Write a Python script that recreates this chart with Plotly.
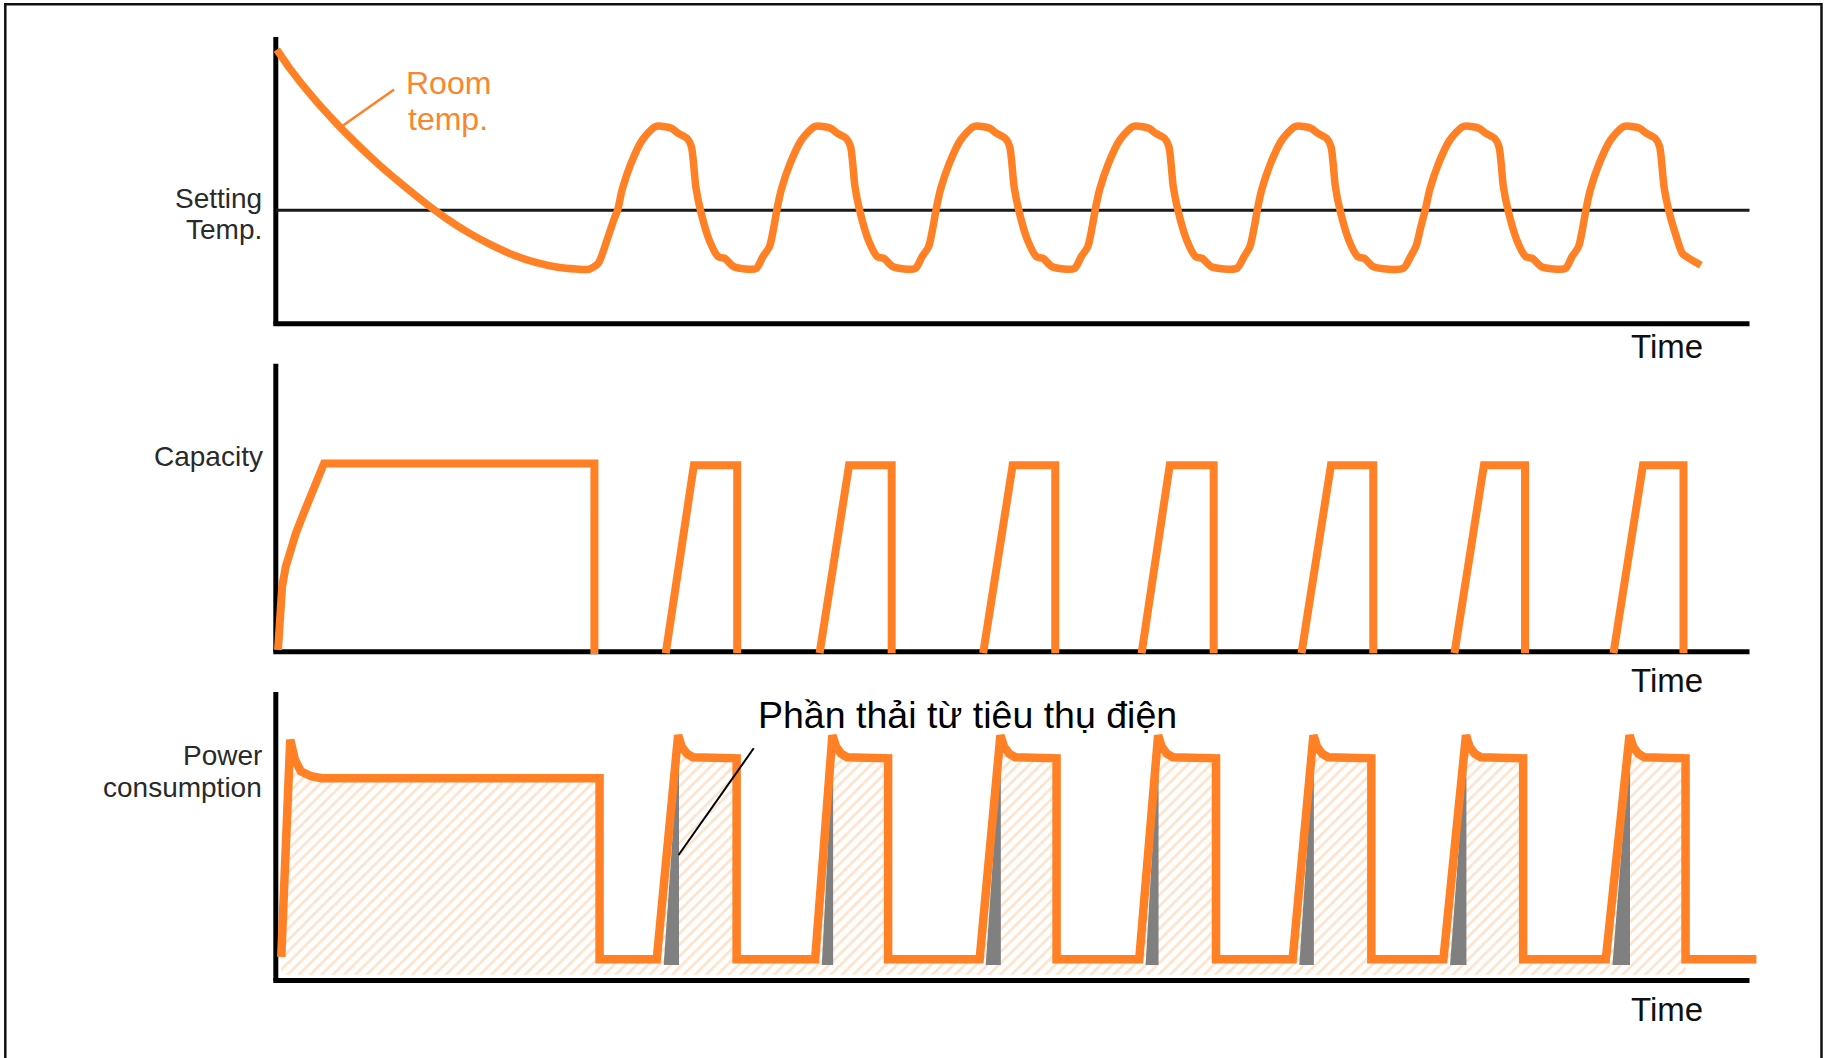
import plotly.graph_objects as go

W, H = 1825, 1058
FONT = "Liberation Sans, Arial, sans-serif"
ORANGE = "#FF8025"
TEXT_ORANGE = "#F9862C"
TEXT_DARK = "#2a2a2a"

# ---------------- data (relative units: 0 = time axis, 100 = top of value axis) ----------------
# Panel 1: room temperature vs time
temp_t = [0.07, 0.98, 2.49, 4.00, 5.52, 7.04, 8.55, 10.37, 11.58, 13.10, 14.61, 16.12, 17.64, 19.15, 20.36, 21.25, 21.88, 22.48, 22.94,
          23.20, 23.50, 24.11, 24.87, 25.78, 26.84, 27.29, 27.90, 28.20, 28.50, 28.81, 29.41, 30.02, 30.47, 31.08, 32.59, 33.05, 33.50, 33.80,
          34.00, 34.30, 34.91, 35.67, 36.58, 37.64, 38.09, 38.70, 39.00, 39.30, 39.61, 40.21, 40.82, 41.27, 41.88, 43.39, 43.85, 44.30, 44.60,
          44.80, 45.10, 45.71, 46.47, 47.38, 48.44, 48.89, 49.50, 49.80, 50.10, 50.41, 51.01, 51.62, 52.07, 52.68, 54.19, 54.65, 55.10, 55.40,
          55.60, 55.90, 56.51, 57.27, 58.18, 59.24, 59.69, 60.30, 60.60, 60.90, 61.21, 61.81, 62.42, 62.87, 63.48, 65.20, 65.70, 66.10, 66.40,
          66.60, 66.90, 67.51, 68.27, 69.18, 70.24, 70.69, 71.30, 71.60, 71.90, 72.21, 72.81, 73.42, 73.87, 74.48, 76.50, 77.00, 77.40, 77.70,
          78.00, 78.30, 78.91, 79.67, 80.58, 81.64, 82.09, 82.70, 83.00, 83.30, 83.61, 84.21, 84.82, 85.27, 85.88, 87.50, 87.95, 88.40, 88.70,
          88.90, 89.20, 89.81, 90.57, 91.48, 92.54, 92.99, 93.60, 93.90, 94.20, 94.51, 95.11, 95.45, 95.90, 96.70]
temp_v = [95.6, 88.8, 79.1, 70.5, 62.6, 55.3, 48.7, 41.2, 36.7, 31.7, 27.5, 24.0, 21.4, 19.7, 19.1, 19.0, 21.1, 29.3, 36.3,
          39.7, 46.7, 56.0, 64.1, 68.8, 68.2, 66.5, 64.7, 61.8, 47.8, 39.7, 29.2, 23.4, 22.8, 19.9, 19.3, 23.4, 26.9, 33.9,
          39.7, 46.7, 56.0, 64.1, 68.8, 68.2, 66.5, 64.7, 61.8, 47.8, 39.7, 29.2, 23.4, 22.8, 19.9, 19.3, 23.4, 26.9, 33.9,
          39.7, 46.7, 56.0, 64.1, 68.8, 68.2, 66.5, 64.7, 61.8, 47.8, 39.7, 29.2, 23.4, 22.8, 19.9, 19.3, 23.4, 26.9, 33.9,
          39.7, 46.7, 56.0, 64.1, 68.8, 68.2, 66.5, 64.7, 61.8, 47.8, 39.7, 29.2, 23.4, 22.8, 19.9, 19.3, 23.4, 26.9, 33.9,
          39.7, 46.7, 56.0, 64.1, 68.8, 68.2, 66.5, 64.7, 61.8, 47.8, 39.7, 29.2, 23.4, 22.8, 19.9, 19.3, 23.4, 27.5, 33.9,
          39.7, 46.7, 56.0, 64.1, 68.8, 68.2, 66.5, 64.7, 61.8, 47.8, 39.7, 29.2, 23.4, 22.8, 19.9, 19.3, 23.4, 26.9, 33.9,
          39.7, 46.7, 56.0, 64.1, 68.8, 68.2, 66.5, 64.7, 61.8, 47.8, 39.7, 29.2, 24.5, 22.8, 20.4]
setting_temp = 39.6

# Panel 2: capacity vs time (None = pen lifted)
cap_t = [0.15, 0.26, 0.43, 0.67, 1.02, 1.36, 1.89, 2.40, 2.82, 3.27, 21.62, 21.62, None,
         26.46, 28.37, 31.31, 31.31, None,
         36.90, 38.90, 41.79, 41.79, None,
         48.00, 50.00, 52.89, 52.89, None,
         58.75, 60.66, 63.64, 63.64, None,
         69.60, 71.60, 74.47, 74.47, None,
         79.98, 81.98, 84.77, 84.77, None,
         90.77, 92.77, 95.52, 95.52]
cap_v = [0.6, 14.5, 22.6, 29.5, 35.9, 41.1, 48.1, 55.0, 60.8, 65.4, 65.4, -0.8, None,
         -0.5, 64.8, 64.8, -0.5, None,
         -0.5, 64.8, 64.8, -0.5, None,
         -0.5, 64.8, 64.8, -0.5, None,
         -0.5, 64.8, 64.8, -0.5, None,
         -0.5, 64.8, 64.8, -0.5, None,
         -0.5, 64.8, 64.8, -0.5, None,
         -0.5, 64.8, 64.8, -0.5]

# Panel 3: power consumption vs time
power_t = [0.37, 0.98, 1.30, 1.70, 2.40, 3.10, 21.97, 21.97,
           25.85, 27.30, 27.55, 27.90, 28.30, 31.27, 31.27,
           36.60, 37.77, 38.02, 38.37, 38.77, 41.55, 41.55,
           47.76, 49.17, 49.42, 49.77, 50.17, 52.98, 52.98,
           58.59, 59.87, 60.12, 60.47, 60.87, 63.80, 63.80,
           69.00, 70.41, 70.66, 71.01, 71.41, 74.34, 74.34,
           79.23, 80.76, 81.01, 81.36, 81.76, 84.64, 84.64,
           90.25, 91.86, 92.11, 92.46, 92.86, 95.66, 95.66,
           100.47]
power_v = [8.2, 83.5, 76.5, 72.5, 70.8, 70.1, 70.1, 7.4,
           7.4, 85.0, 81.0, 78.6, 77.4, 77.0, 7.4,
           7.4, 85.0, 81.0, 78.6, 77.4, 77.0, 7.4,
           7.4, 85.0, 81.0, 78.6, 77.4, 77.0, 7.4,
           7.4, 85.0, 81.0, 78.6, 77.4, 77.0, 7.4,
           7.4, 85.0, 81.0, 78.6, 77.4, 77.0, 7.4,
           7.4, 85.0, 81.0, 78.6, 77.4, 77.0, 7.4,
           7.4, 85.0, 81.0, 78.6, 77.4, 77.0, 7.4,
           7.4]

# wasted power wedges (grey) at each start-up
waste_start = [26.32, 37.05, 48.17, 59.02, 69.45, 79.68, 90.70]
waste_end = [27.36, 37.82, 49.20, 59.90, 70.44, 80.79, 91.89]
waste_base = 5.4
waste_top = 82.5
hatch_base = 2.0

# ---------------- layout geometry (pixels) ----------------
T0_PX, T100_PX = 275.8, 1749.5
KX = (T100_PX - T0_PX) / 100.0
X_RANGE = [-1.5, 101.8]
PANELS = [(323.8, 37.0), (651.8, 363.8), (980.5, 692.0)]  # (axis y px, top y px)
Y_RANGE = [-6, 104]

fig = go.Figure()

xdom = [(T0_PX + X_RANGE[0] * KX) / W, (T0_PX + X_RANGE[1] * KX) / W]
for i, (y0, ytop) in enumerate(PANELS):
    k = (y0 - ytop) / 100.0
    bot = y0 - Y_RANGE[0] * k
    top = y0 - Y_RANGE[1] * k
    sfx = "" if i == 0 else str(i + 1)
    fig.layout["xaxis" + sfx] = dict(domain=xdom, range=X_RANGE, visible=False,
                                     anchor="y" + sfx, fixedrange=True)
    fig.layout["yaxis" + sfx] = dict(domain=[1 - bot / H, 1 - top / H], range=Y_RANGE,
                                     visible=False, anchor="x" + sfx, fixedrange=True)

# Panel 1
fig.add_trace(go.Scatter(x=temp_t, y=temp_v, mode="lines", xaxis="x", yaxis="y",
                         line=dict(color=ORANGE, width=7.5, shape="spline", smoothing=0.7),
                         hoverinfo="skip"))

# Panel 2
fig.add_trace(go.Scatter(x=cap_t, y=cap_v, mode="lines", xaxis="x2", yaxis="y2",
                         connectgaps=False,
                         line=dict(color=ORANGE, width=8), hoverinfo="skip"))

# Panel 3: hatched energy area
n_h = len(power_t) - 1
fig.add_trace(go.Scatter(x=[power_t[0], power_t[n_h - 1]], y=[hatch_base, hatch_base],
                         mode="lines", xaxis="x3", yaxis="y3",
                         line=dict(width=0, color="rgba(0,0,0,0)"), hoverinfo="skip"))
fig.add_trace(go.Scatter(x=power_t[:n_h], y=power_v[:n_h], mode="lines", xaxis="x3", yaxis="y3",
                         fill="tonexty", fillcolor="rgba(0,0,0,0)",
                         fillpattern=dict(shape="/", fgcolor="#FCC898", bgcolor="white",
                                          size=8, solidity=0.35),
                         line=dict(width=0, color="rgba(0,0,0,0)"), hoverinfo="skip"))
# grey wedges
wx, wy = [], []
for a, b in zip(waste_start, waste_end):
    wx += [a, b, b, a, None]
    wy += [waste_base, waste_base, waste_top, waste_base, None]
fig.add_trace(go.Scatter(x=wx, y=wy, mode="lines", xaxis="x3", yaxis="y3", fill="toself",
                         fillcolor="#808080", line=dict(width=0, color="#808080"),
                         hoverinfo="skip"))
fig.add_trace(go.Scatter(x=power_t, y=power_v, mode="lines", xaxis="x3", yaxis="y3",
                         line=dict(color=ORANGE, width=8.5), hoverinfo="skip"))

# axes lines (drawn below traces)
shapes = []
for i in range(3):
    sfx = "" if i == 0 else str(i + 1)
    xr, yr = "x" + sfx, "y" + sfx
    shapes.append(dict(type="line", xref=xr, yref=yr, x0=0, x1=0, y0=0, y1=100,
                       line=dict(color="#000", width=5), layer="below"))
    shapes.append(dict(type="line", xref=xr, yref=yr, x0=-0.17, x1=100, y0=0, y1=0,
                       line=dict(color="#000", width=5), layer="below"))
# setting temperature line
shapes.append(dict(type="line", xref="x", yref="y", x0=0, x1=100, y0=setting_temp, y1=setting_temp,
                   line=dict(color="#1a1a1a", width=3), layer="below"))
# leader lines
shapes.append(dict(type="line", xref="x", yref="y", x0=8.03, y0=81.7, x1=4.46, y1=68.8,
                   line=dict(color=ORANGE, width=2.5)))
shapes.append(dict(type="line", xref="x3", yref="y3", x0=32.43, y0=80.5, x1=27.33, y1=43.5,
                   line=dict(color="#000", width=2)))
# outer frame
shapes.append(dict(type="rect", xref="paper", yref="paper", x0=5.3 / W, x1=1821.5 / W,
                   y0=1 - 1080 / H, y1=1 - 4.3 / H, line=dict(color="#111", width=2.5),
                   fillcolor="rgba(0,0,0,0)"))


def label(text, x, baseline, size, color, anchor):
    yc = baseline - 0.3465 * size
    return dict(text=text, x=x / W, y=1 - yc / H, xref="paper", yref="paper",
                xanchor=anchor, yanchor="middle", showarrow=False, borderpad=0,
                borderwidth=0, font=dict(family=FONT, size=size, color=color))


annotations = [
    label("Setting", 262, 208, 28, TEXT_DARK, "right"),
    label("Temp.", 262, 239, 28, TEXT_DARK, "right"),
    label("Capacity", 262.5, 466, 28, TEXT_DARK, "right"),
    label("Power", 261.5, 765.5, 28, TEXT_DARK, "right"),
    label("consumption", 261.5, 797, 28, TEXT_DARK, "right"),
    label("Room", 406, 94.5, 32, TEXT_ORANGE, "left"),
    label("temp.", 408, 130.5, 32, TEXT_ORANGE, "left"),
    label("Time", 1631, 358, 33, "#111", "left"),
    label("Time", 1631, 692, 33, "#111", "left"),
    label("Time", 1631, 1021, 33, "#111", "left"),
    label("Phần thải từ tiêu thụ điện", 757.5, 728.3, 37.5, "#000", "left"),
]

fig.update_layout(width=W, height=H, margin=dict(l=0, r=0, t=0, b=0, pad=0),
                  paper_bgcolor="white", plot_bgcolor="rgba(0,0,0,0)",
                  showlegend=False, hovermode=False,
                  shapes=shapes, annotations=annotations)

fig.write_html("out.html", config={"displayModeBar": False},
               post_script="document.body.style.margin='0';document.body.style.overflow='hidden';")
